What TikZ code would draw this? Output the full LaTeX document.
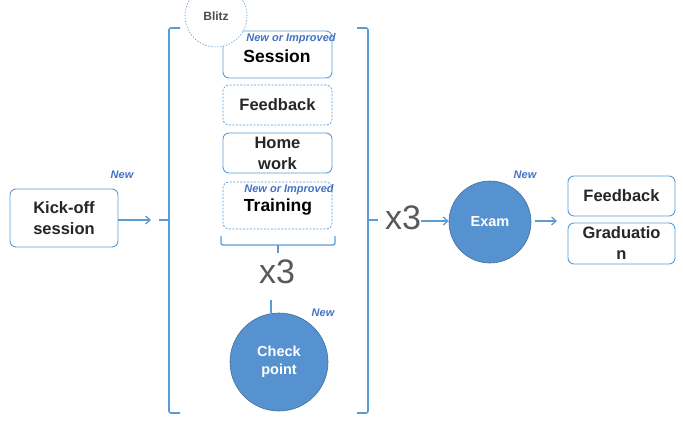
\documentclass[tikz,border=0pt]{standalone}
\usepackage{fontspec}
\setmainfont{Liberation Sans}
\usetikzlibrary{arrows.meta}
\definecolor{lineblue}{HTML}{5B9BD5}
\definecolor{fillblue}{HTML}{5592CF}
\definecolor{rimblue}{HTML}{41719C}
\definecolor{tagblue}{HTML}{4472C4}
\definecolor{numgray}{HTML}{595959}
\begin{document}
\begin{tikzpicture}[x=1pt,y=-1pt,
  box/.style={draw=lineblue,line width=0.9pt,rounded corners=6pt,fill=white,
    minimum width=#1,align=center,font=\bfseries\fontsize{16.5}{21}\selectfont,text=black!85},
  box/.default=109pt,
  dbox/.style={box,dashed,dash pattern=on 2pt off 1.5pt,line width=0.7pt},
  disc/.style={circle,draw=rimblue,line width=0.6pt,fill=fillblue,text=white,
    align=center,font=\bfseries\fontsize{14.5}{18}\selectfont},
  tag/.style={text=tagblue,font=\bfseries\itshape\fontsize{11}{12}\selectfont,inner sep=0pt},
  times/.style={text=numgray,font=\fontsize{34}{36}\selectfont,inner sep=0pt},
  brk/.style={draw=lineblue,line width=1.6pt,rounded corners=2pt},
  arr/.style={draw=lineblue,line width=1.3pt,-{Straight Barb[length=4.5pt,width=8pt]}}]
\useasboundingbox (0,0) rectangle (683,432);

% entry step
\node[box=108pt,minimum height=58pt] (kick) at (64,218) {Kick-off\\session};
\node[tag] (kicknew) at (122,175) {New};
\coordinate (lin) at (151,220);
\draw[arr] (kick.east |- lin) -- (lin);

% outer bracket, left and right halves
\draw[brk] (180,28) -- (169,28) -- (169,413) -- (180,413);
\draw[brk] (169,220) -- (159,220);
\draw[brk] (357,28) -- (368,28) -- (368,413) -- (357,413);
\draw[brk] (368,220) -- (378,220);

% weekly cycle
\node[box,minimum height=47pt] (session) at (277.5,54.5) {};
\node at (277,56) {\bfseries\fontsize{17.5}{20}\selectfont Session};
\node[tag] (sessnew) at (291,39) {New or Improved};
\node[dbox,minimum height=40pt] (feed) at (277.5,105) {Feedback};
\node[box,minimum height=40pt] (home) at (277.5,153) {Home\\work};
\node[dbox,minimum height=47pt] (train) at (277.5,205.5) {};
\node at (278,207) {\bfseries\fontsize{17.5}{20}\selectfont Training};
\node[tag] (trainnew) at (289,190) {New or Improved};

% blitz quiz
\node[circle,draw=lineblue,dashed,dash pattern=on 1.5pt off 1.5pt,line width=0.6pt,
  fill=white,minimum size=62pt,inner sep=0pt,text=black!70,
  font=\bfseries\fontsize{12}{13}\selectfont] (blitz) at (216,16) {Blitz};

% inner bracket and repeat count
\draw[brk,line width=1.3pt] (221,236) -- (221,245) -- (335,245) -- (335,236);
\draw[brk,line width=1.3pt] (278,245) -- (278,253);
\node[times] (x3in) at (277,272) {x3};

% check point
\node[disc,minimum size=98pt] (check) at (279,362) {Check\\point};
\node[tag] (checknew) at (323,313) {New};
\coordinate (ctop) at (271,300);
\draw[draw=lineblue,line width=1.3pt] (ctop) -- (271,313);

% exam and outcomes
\node[times] (x3out) at (403,218) {x3};
\node[disc,minimum size=82pt] (exam) at (490,222) {Exam};
\node[tag] (examnew) at (525,175) {New};
\coordinate (xin) at (421,221);
\draw[arr] (xin) -- (exam.west |- xin);
\coordinate (eout) at (557,221);
\draw[arr] (exam.east |- eout) ++(4pt,0) -- (eout);
\node[box=107pt,minimum height=40pt] (fb2) at (621.5,196) {Feedback};
\node[box=107pt,minimum height=41pt] (grad) at (621.5,243.5) {Graduatio\\n};
\end{tikzpicture}
\end{document}
